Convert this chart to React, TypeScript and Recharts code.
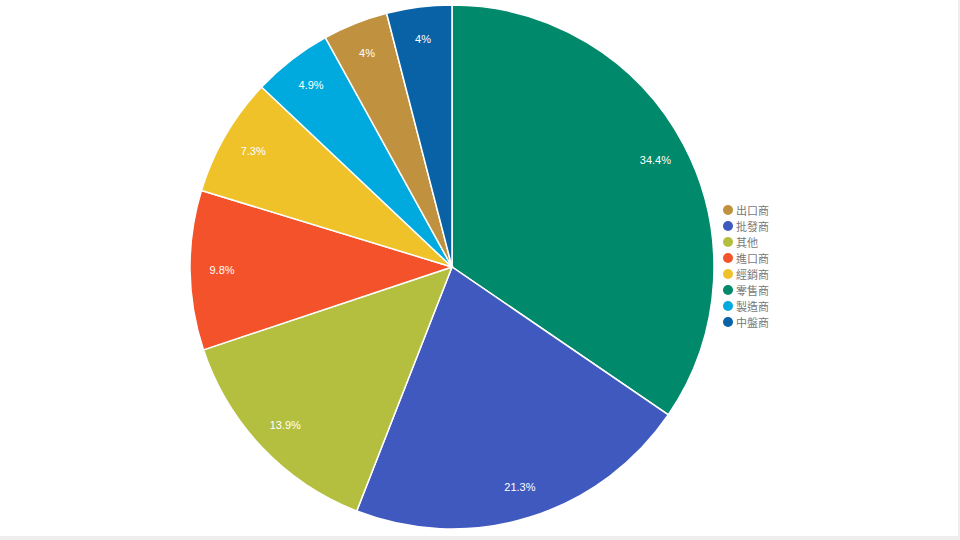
import { Cell, Legend, Pie, PieChart } from "recharts";

const categories = ["零售商", "批發商", "其他", "進口商", "經銷商", "製造商", "出口商", "中盤商"];
const shares = [34.4, 21.3, 13.9, 9.8, 7.3, 4.9, 4.0, 4.0];
const colors = ["#00896b", "#3f59bf", "#b5bf3f", "#f4522b", "#f0c22a", "#00aade", "#c0913f", "#0a62a6"];
const legendOrder = ["出口商", "批發商", "其他", "進口商", "經銷商", "零售商", "製造商", "中盤商"];

const data = categories.map((name, i) => ({ name, value: shares[i] }));

const RAD = Math.PI / 180;

function renderLabel(props: any) {
  const { cx, cy, midAngle, outerRadius, value } = props;
  const r = outerRadius - 32;
  const x = cx + r * Math.cos(-midAngle * RAD);
  const y = cy + r * Math.sin(-midAngle * RAD);
  return (
    <text
      x={x}
      y={y}
      fill="#ffffff"
      fontSize={11}
      fontFamily="Liberation Sans, Arial, sans-serif"
      textAnchor="middle"
      dominantBaseline="central"
    >
      {`${value}%`}
    </text>
  );
}

function LegendBox() {
  return (
    <div style={{ fontFamily: "'Noto Sans CJK TC', sans-serif", fontSize: 11, color: "#777" }}>
      {legendOrder.map((name) => {
        const i = categories.indexOf(name);
        return (
          <div key={name} style={{ display: "flex", alignItems: "center", height: 16 }}>
            <span
              style={{
                width: 10,
                height: 10,
                borderRadius: "50%",
                background: colors[i],
                marginRight: 3,
                display: "inline-block",
              }}
            />
            <span>{name}</span>
          </div>
        );
      })}
    </div>
  );
}

export default function App() {
  return (
    <div style={{ position: "absolute", left: 0, top: 0, width: 960, height: 540, background: "#eeeeee" }}>
      <div style={{ width: 958, height: 536, background: "#ffffff" }}>
        <PieChart width={958} height={536}>
          <Pie
            data={data}
            dataKey="value"
            nameKey="name"
            cx={447}
            cy={262}
            outerRadius={262}
            startAngle={90}
            endAngle={-270}
            stroke="#ffffff"
            strokeWidth={1.5}
            label={renderLabel}
            labelLine={false}
            isAnimationActive={false}
          >
            {data.map((d, i) => (
              <Cell key={d.name} fill={colors[i]} />
            ))}
          </Pie>
          <Legend content={() => <LegendBox />} wrapperStyle={{ left: 723, top: 202, width: 80 }} />
        </PieChart>
      </div>
    </div>
  );
}
